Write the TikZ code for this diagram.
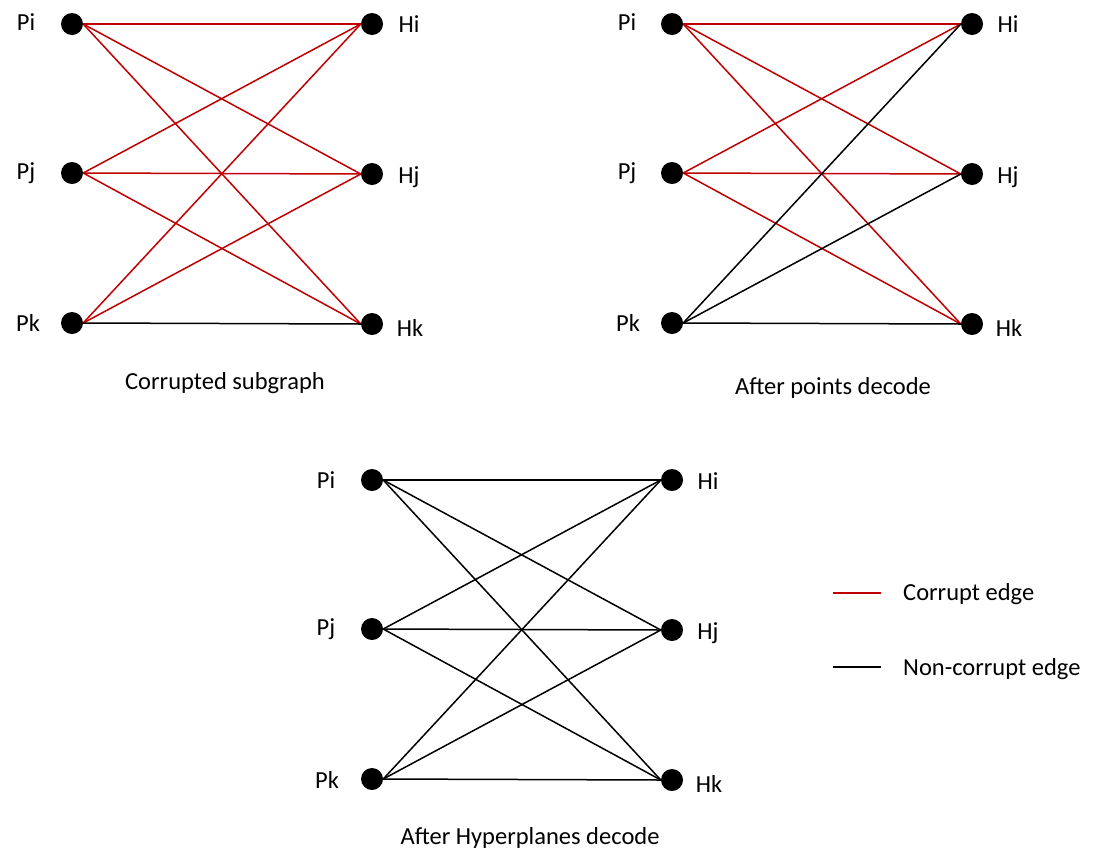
\documentclass[tikz,border=0pt]{standalone}
\usepackage{fontspec}
\setmainfont{Carlito}
\definecolor{corrupt}{RGB}{192,0,0}
\begin{document}
\begin{tikzpicture}[x=1pt,y=-1pt,
  vert/.style={circle,fill=black,inner sep=0pt,minimum size=22pt},
  lab/.style={font=\fontsize{24.5}{29}\selectfont,inner sep=0pt},
  red edge/.style={draw=corrupt,line width=1.5pt},
  blk edge/.style={draw=black,line width=1.5pt}]
\useasboundingbox (0,0) rectangle (1102,863);
% graph 1
\node[vert] (aPi) at (72,24) {};
\node[vert] (aPj) at (72,173) {};
\node[vert] (aPk) at (72,323) {};
\node[vert] (aHi) at (372,24) {};
\node[vert] (aHj) at (372,174) {};
\node[vert] (aHk) at (372,324) {};
\node[lab] (laPi) at (26,22) {Pi};
\node[lab] (laPj) at (26,173) {Pj};
\node[lab] (laPk) at (28,323) {Pk};
\node[lab] (laHi) at (409,24) {Hi};
\node[lab] (laHj) at (409,177) {Hj};
\node[lab] (laHk) at (410,328) {Hk};
\node[lab] (capa) at (225,383) {Corrupted subgraph};
\foreach \p in {Pi,Pj} \foreach \h in {Hi,Hj,Hk} \draw[red edge] (a\p.east) -- (a\h.west);
\draw[red edge] (aPk.east) -- (aHi.west);
\draw[red edge] (aPk.east) -- (aHj.west);
\draw[blk edge] (aPk.east) -- (aHk.west);
% graph 2
\node[vert] (bPi) at (672,24) {};
\node[vert] (bPj) at (672,173) {};
\node[vert] (bPk) at (672,323) {};
\node[vert] (bHi) at (972,24) {};
\node[vert] (bHj) at (972,174) {};
\node[vert] (bHk) at (972,324) {};
\node[lab] (lbPi) at (627,22) {Pi};
\node[lab] (lbPj) at (627,173) {Pj};
\node[lab] (lbPk) at (628,323) {Pk};
\node[lab] (lbHi) at (1008,24) {Hi};
\node[lab] (lbHj) at (1008,177) {Hj};
\node[lab] (lbHk) at (1009,328) {Hk};
\node[lab] (capb) at (833,388) {After points decode};
\foreach \p in {Pi,Pj} \foreach \h in {Hi,Hj,Hk} \draw[red edge] (b\p.east) -- (b\h.west);
\foreach \h in {Hi,Hj,Hk} \draw[blk edge] (bPk.east) -- (b\h.west);
% graph 3
\node[vert] (cPi) at (372,480) {};
\node[vert] (cPj) at (372,629) {};
\node[vert] (cPk) at (372,779) {};
\node[vert] (cHi) at (672,480) {};
\node[vert] (cHj) at (672,630) {};
\node[vert] (cHk) at (672,780) {};
\node[lab] (lcPi) at (326,480) {Pi};
\node[lab] (lcPj) at (326,629) {Pj};
\node[lab] (lcPk) at (327,780) {Pk};
\node[lab] (lcHi) at (708,481) {Hi};
\node[lab] (lcHj) at (708,633) {Hj};
\node[lab] (lcHk) at (709,784) {Hk};
\node[lab] (capc) at (530,838) {After Hyperplanes decode};
\foreach \p in {Pi,Pj,Pk} \foreach \h in {Hi,Hj,Hk} \draw[blk edge] (c\p.east) -- (c\h.west);
% legend
\coordinate (lr1) at (833,593);
\coordinate (lr2) at (881,593);
\coordinate (lk1) at (833,667);
\coordinate (lk2) at (881,667);
\draw[red edge] (lr1) -- (lr2);
\draw[blk edge] (lk1) -- (lk2);
\node[lab,anchor=west] (lgr) at (903,594) {Corrupt edge};
\node[lab,anchor=west] (lgk) at (903,669) {Non-corrupt edge};
\end{tikzpicture}
\end{document}
